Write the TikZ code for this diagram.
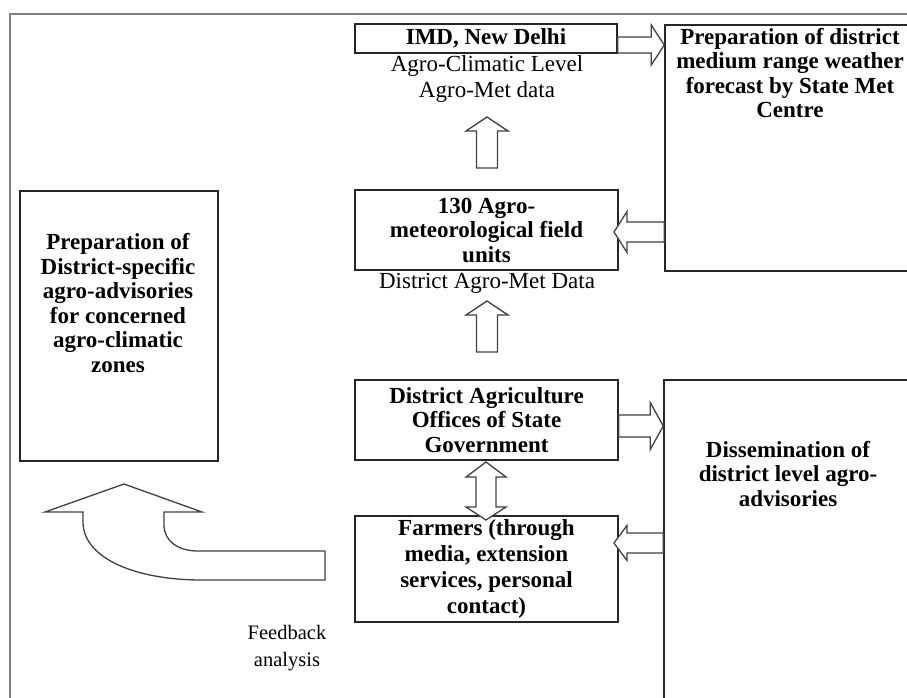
\documentclass[tikz,border=0pt]{standalone}
\usepackage{fontspec}
\setmainfont{Liberation Serif}
\usepackage{tikz}
\usetikzlibrary{calc}

% block arrow: tail, tip, shaft half width, head half width, head length
\newcommand{\blkarrow}[5]{%
  \coordinate (hb) at ($(#2)!#5pt!(#1)$);
  \draw[blk] ($(#1)!#3pt!90:(#2)$) -- ($(hb)!#3pt!90:(#2)$) -- ($(hb)!#4pt!90:(#2)$)
    -- (#2) -- ($(hb)!#4pt!-90:(#2)$) -- ($(hb)!#3pt!-90:(#2)$) -- ($(#1)!#3pt!-90:(#2)$) -- cycle;}

\begin{document}
\begin{tikzpicture}[
    x=1pt,y=-1pt,
    box/.style={rectangle,draw=black!85,line width=1.5pt,inner sep=0pt,align=center,
      font=\fontsize{23}{24.5}\selectfont\bfseries},
    bold/.style={align=center,inner sep=0pt,font=\fontsize{23}{24.5}\selectfont\bfseries},
    txt/.style={align=center,inner sep=0pt,font=\fontsize{23}{25.5}\selectfont},
    blk/.style={draw=black!75,line width=1.3pt,line join=miter,fill=white},
    frame/.style={draw=black!50,line width=2.5pt}
  ]
    \useasboundingbox (0,0) rectangle (907,698);
    \clip (0,0) rectangle (907,698);
    \draw[frame] (10,720) -- (10,14) -- (930,14);

    \node[box,minimum width=262,minimum height=29] (imd) at (486,38.5) {IMD, New Delhi};
    \node[txt] (acl) at (487,79) {Agro-Climatic Level\\Agro-Met data};
    \node[box,minimum width=275,minimum height=246] (smc) at (802.5,148) {};
    \node[bold] (smctxt) at (790,73) {Preparation of district\\medium range weather\\forecast by State Met\\Centre};
    \node[box,minimum width=263,minimum height=80] (afu) at (486.5,230)
      {130 Agro-\\meteorological field\\units};
    \node[txt] (dmd) at (487,283) {District Agro-Met Data};
    \node[box,minimum width=198,minimum height=270] (adv) at (119,326) {};
    \node[bold] (advtxt) at (118,303) {Preparation of\\District-specific\\agro-advisories\\for concerned\\agro-climatic\\zones};
    \node[box,minimum width=263,minimum height=80] (dao) at (486.5,420)
      {District Agriculture\\Offices of State\\Government};
    \node[box,minimum width=263,minimum height=106,font=\fontsize{23}{26}\selectfont\bfseries] (frm) at (486.5,569)
      {Farmers (through\\media, extension\\services, personal\\contact)};
    \node[box,minimum width=276,minimum height=350] (dis) at (802,555) {};
    \node[bold] (distxt) at (788,474) {Dissemination of\\district level agro-\\advisories};
    \node[txt,font=\fontsize{20.5}{27}\selectfont] (fba) at (287,648) {Feedback\\analysis};

    \blkarrow{imd.east |- 0,45}{smc.west |- 0,45}{8}{20}{13}
    \blkarrow{487,168}{487,117}{10.5}{21}{14}
    \blkarrow{smc.west |- 0,232}{614,232}{10}{20.5}{13}
    \blkarrow{487,352}{487,301}{10.5}{21}{14}
    \blkarrow{dao.east |- 0,426}{dis.west |- 0,426}{11}{23.5}{13}
    \blkarrow{dis.west |- 0,543}{614,543}{10}{17.5}{13}

    % two-way arrow between offices and farmers
    \coordinate (dt) at (486,462);
    \coordinate (db) at (486,520);
    \draw[blk] (dt) -- ++(20,15) -- ++(-10,0) -- ++(0,30) -- ++(10,0) -- (db)
      -- ++(-20,-13) -- ++(10,0) -- ++(0,-30) -- ++(-10,0) -- cycle;

    % feedback arrow
    \coordinate (fbt) at (124,484);
    \draw[blk] (fbt) -- (202,512) -- (164,512) -- (164,525)
      .. controls (164,541) and (178,551) .. (198,551) -- (325,551) -- (325,580) -- (198,580)
      .. controls (130,579) and (83,556) .. (83,522) -- (83,512) -- (45,512) -- cycle;
  \end{tikzpicture}
\end{document}
